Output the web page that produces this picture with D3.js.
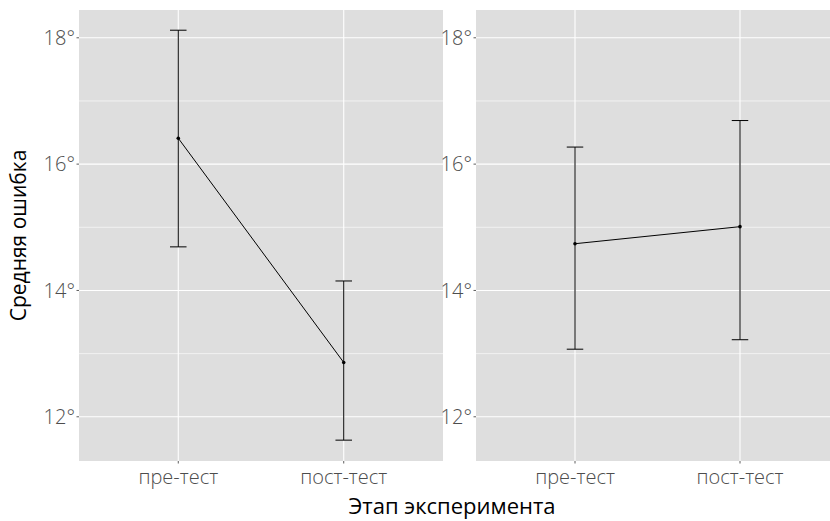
<!DOCTYPE html>
<html>
<head>
<meta charset="utf-8">
<script src="https://cdn.jsdelivr.net/npm/d3@7"></script>
<style>
  body { margin: 0; background: #fff; }
  text { font-family: "Open Sans", sans-serif; }
</style>
</head>
<body>
<svg id="chart" width="830" height="521"></svg>
<script>
// stages of the experiment
var stages = ["пре-тест", "пост-тест"];

// left panel
var leftMean  = [16.41, 12.86];
var leftLower = [14.69, 11.63];
var leftUpper = [18.12, 14.15];

// right panel
var rightMean  = [14.74, 15.01];
var rightLower = [13.07, 13.22];
var rightUpper = [16.27, 16.69];

var yTicks = [12, 14, 16, 18];
var yMinor = [13, 15, 17];

var svg = d3.select("#chart");
var top_ = 10, bottom = 461;

var y = d3.scaleLinear().domain([11.30, 18.44]).range([bottom, top_]);

function panel(x0, x1, mean, lower, upper) {
    // discrete x scale with ggplot's 0.6 expansion
    var x = d3.scaleLinear().domain([0.4, 2.6]).range([x0, x1]);
    var g = svg.append("g");
    g.append("rect")
        .attr("x", x0).attr("y", top_)
        .attr("width", x1 - x0).attr("height", bottom - top_)
        .attr("fill", "#dedede");

    g.selectAll("line.minor").data(yMinor).enter().append("line")
        .attr("x1", x0).attr("x2", x1)
        .attr("y1", function(d) { return y(d); })
        .attr("y2", function(d) { return y(d); })
        .attr("stroke", "#fff").attr("stroke-width", 0.6);
    g.selectAll("line.major").data(yTicks).enter().append("line")
        .attr("x1", x0).attr("x2", x1)
        .attr("y1", function(d) { return y(d); })
        .attr("y2", function(d) { return y(d); })
        .attr("stroke", "#fff").attr("stroke-width", 1.1);
    g.selectAll("line.vgrid").data(stages).enter().append("line")
        .attr("x1", function(d, i) { return x(i + 1); })
        .attr("x2", function(d, i) { return x(i + 1); })
        .attr("y1", top_).attr("y2", bottom)
        .attr("stroke", "#fff").attr("stroke-width", 1.1);

    // y axis labels
    g.selectAll("text.ytick").data(yTicks).enter().append("text")
        .attr("x", x0 - 4)
        .attr("y", function(d) { return y(d); })
        .attr("dy", "0.36em")
        .attr("text-anchor", "end")
        .attr("font-size", 20)
        .attr("font-weight", 300)
        .attr("fill", "#4d4d4d")
        .text(function(d) { return d + "°"; });
    g.selectAll("line.ytk").data(yTicks).enter().append("line")
        .attr("x1", x0 - 2.5).attr("x2", x0)
        .attr("y1", function(d) { return y(d); })
        .attr("y2", function(d) { return y(d); })
        .attr("stroke", "#333").attr("stroke-width", 0.8);

    // x axis labels
    g.selectAll("text.xtick").data(stages).enter().append("text")
        .attr("x", function(d, i) { return x(i + 1); })
        .attr("y", bottom + 23)
        .attr("text-anchor", "middle")
        .attr("font-size", 20)
        .attr("font-weight", 300)
        .attr("fill", "#4d4d4d")
        .text(function(d) { return d; });
    g.selectAll("line.xtk").data(stages).enter().append("line")
        .attr("x1", function(d, i) { return x(i + 1); })
        .attr("x2", function(d, i) { return x(i + 1); })
        .attr("y1", bottom).attr("y2", bottom + 2.5)
        .attr("stroke", "#333").attr("stroke-width", 0.8);

    // error bars
    var half = 0.05;
    var eb = g.selectAll("g.eb").data(mean).enter().append("g");
    eb.append("line")
        .attr("x1", function(d, i) { return x(i + 1); })
        .attr("x2", function(d, i) { return x(i + 1); })
        .attr("y1", function(d, i) { return y(lower[i]); })
        .attr("y2", function(d, i) { return y(upper[i]); })
        .attr("stroke", "#000").attr("stroke-width", 1);
    eb.append("line")
        .attr("x1", function(d, i) { return x(i + 1 - half); })
        .attr("x2", function(d, i) { return x(i + 1 + half); })
        .attr("y1", function(d, i) { return y(upper[i]); })
        .attr("y2", function(d, i) { return y(upper[i]); })
        .attr("stroke", "#000").attr("stroke-width", 1);
    eb.append("line")
        .attr("x1", function(d, i) { return x(i + 1 - half); })
        .attr("x2", function(d, i) { return x(i + 1 + half); })
        .attr("y1", function(d, i) { return y(lower[i]); })
        .attr("y2", function(d, i) { return y(lower[i]); })
        .attr("stroke", "#000").attr("stroke-width", 1);

    // line connecting means
    var line = d3.line()
        .x(function(d, i) { return x(i + 1); })
        .y(function(d) { return y(d); });
    g.append("path")
        .datum(mean)
        .attr("d", line)
        .attr("fill", "none")
        .attr("stroke", "#000").attr("stroke-width", 1);

    g.selectAll("circle").data(mean).enter().append("circle")
        .attr("cx", function(d, i) { return x(i + 1); })
        .attr("cy", function(d) { return y(d); })
        .attr("r", 1.8)
        .attr("fill", "#000");
}

panel(79, 443, leftMean, leftLower, leftUpper);
panel(476, 839, rightMean, rightLower, rightUpper);

// axis titles
svg.append("text")
    .attr("x", 452).attr("y", 514)
    .attr("text-anchor", "middle")
    .attr("font-size", 22)
    .attr("fill", "#000")
    .text("Этап эксперимента");

svg.append("text")
    .attr("transform", "translate(26," + ((top_ + bottom) / 2) + ") rotate(-90)")
    .attr("text-anchor", "middle")
    .attr("font-size", 21)
    .attr("fill", "#000")
    .text("Средняя ошибка");
</script>
</body>
</html>
